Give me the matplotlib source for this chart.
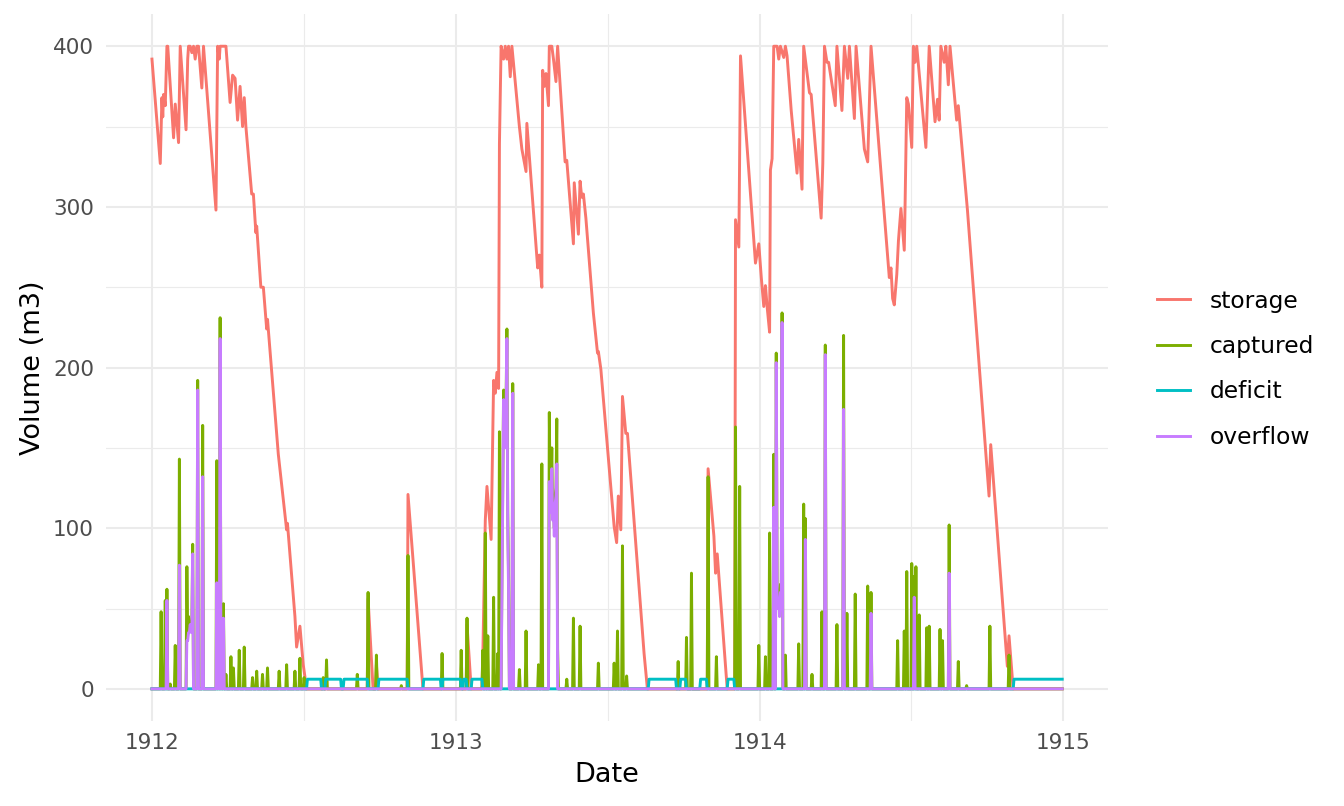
import matplotlib
matplotlib.use("Agg")
import matplotlib.pyplot as plt
import matplotlib.dates as mdates
import numpy as np
import pandas as pd

# daily water balance, 1912-01-01 .. 1914-12-31
start = pd.Timestamp("1912-01-01")
n_days = 1096

# storage (m3) at turning points: (day offset, volume)
storage_pts = [
    (0, 392), (10, 327), (12, 368), (13, 356), (14, 370), (16, 363), (18, 400), (19, 400),
    (26, 343), (28, 364), (32, 340), (34, 400), (41, 348), (43, 392), (44, 400), (46, 400),
    (48, 396), (50, 400), (52, 392), (54, 400), (56, 400), (60, 374), (62, 400), (77, 298),
    (79, 400), (81, 392), (82, 400), (89, 400), (94, 365), (97, 382), (100, 380), (103, 354),
    (106, 375), (109, 350), (111, 368), (113, 350), (120, 308), (122, 308), (125, 284),
    (126, 288), (131, 250), (134, 250), (138, 224), (139, 230), (152, 146), (162, 99),
    (163, 103), (172, 45), (174, 26), (178, 39), (182, 15), (186, 0),
    (259, 0), (260, 56), (266, 0), (269, 0), (270, 15), (272, 0), (307, 0), (308, 121),
    (326, 0), (378, 0), (379, 40), (384, 0), (397, 0), (398, 20), (401, 105), (403, 126),
    (408, 93), (411, 192), (413, 184), (415, 197), (417, 187), (418, 339), (420, 400),
    (423, 392), (425, 400), (427, 392), (429, 400), (431, 381), (433, 400), (442, 350),
    (445, 336), (450, 322), (451, 352), (464, 262), (466, 270), (469, 250), (470, 385),
    (472, 375), (474, 383), (477, 363), (478, 400), (481, 400), (483, 392), (486, 378),
    (488, 400), (497, 328), (499, 329), (507, 277), (508, 315), (513, 283), (515, 316),
    (517, 306), (519, 308), (522, 293), (531, 234), (536, 209), (537, 210), (540, 199),
    (556, 101), (559, 91), (561, 120), (564, 99), (566, 182), (570, 159), (572, 159),
    (592, 22), (596, 0),
    (668, 0), (669, 137), (676, 95), (678, 72), (680, 84), (692, 0), (701, 0), (702, 292),
    (706, 275), (708, 394), (726, 265), (730, 277), (733, 256), (736, 238), (738, 251),
    (740, 238), (743, 222), (744, 323), (746, 330), (748, 400), (752, 400), (754, 392),
    (756, 400), (760, 393), (762, 400), (764, 394), (769, 360), (776, 321), (778, 342),
    (782, 311), (784, 400), (791, 371), (793, 370), (805, 293), (807, 327), (809, 400),
    (812, 390), (814, 390), (822, 363), (824, 400), (830, 360), (833, 400), (837, 380),
    (839, 400), (845, 355), (847, 400), (857, 336), (861, 328), (865, 400), (887, 256),
    (889, 262), (891, 243), (893, 239), (896, 258), (898, 279), (901, 299), (905, 273),
    (906, 302), (908, 368), (910, 364), (914, 337), (916, 400), (918, 390), (920, 400),
    (931, 337), (935, 400), (942, 353), (945, 367), (947, 354), (949, 400), (953, 390),
    (955, 400), (958, 376), (960, 400), (968, 354), (970, 363), (981, 298), (1007, 120),
    (1009, 152), (1029, 14), (1031, 33), (1036, 0), (1095, 0),
]

# captured runoff (m3) on rain days: (day offset, volume)
captured_pts = [
    (11, 48), (16, 55), (18, 62), (22, 3), (28, 27), (33, 143), (42, 76), (43, 35), (44, 45),
    (45, 40), (46, 40), (47, 42), (48, 40), (49, 90), (55, 192), (61, 164), (78, 142), (80, 45),
    (82, 231), (84, 20), (86, 53), (89, 9), (95, 20), (98, 13), (105, 24), (111, 26), (121, 7),
    (126, 11), (133, 9), (139, 13), (153, 11), (162, 15), (172, 11), (178, 19), (183, 7),
    (206, 7), (210, 18), (247, 9), (260, 60), (270, 21), (300, 2), (308, 83), (349, 22),
    (372, 24), (379, 44),
    (398, 24), (401, 97), (404, 33), (411, 57), (416, 22), (418, 160), (421, 70), (422, 130),
    (423, 186), (424, 170), (425, 160), (426, 180), (427, 224), (428, 110), (429, 70),
    (434, 190), (442, 12), (450, 36), (465, 15), (469, 140), (478, 172), (479, 115),
    (480, 125), (481, 150), (482, 110), (483, 115), (484, 100), (485, 120), (486, 125),
    (487, 168), (488, 25), (499, 6), (507, 44), (515, 39), (537, 16), (556, 16), (560, 36),
    (566, 89), (571, 8), (633, 17), (643, 32), (649, 72), (669, 132), (679, 20), (702, 163),
    (707, 126),
    (730, 27), (738, 20), (743, 97), (748, 146), (751, 209), (752, 65), (753, 55), (754, 60),
    (755, 50), (756, 65), (757, 55), (758, 234), (762, 21), (778, 28), (784, 115), (786, 106),
    (794, 9), (806, 48), (810, 214), (824, 40), (832, 220), (836, 47), (846, 59), (861, 64),
    (865, 60), (897, 30), (905, 36), (908, 73), (914, 78), (917, 70), (919, 76), (923, 46),
    (932, 38), (935, 39), (948, 37), (951, 30), (959, 102), (970, 17), (980, 2), (1008, 39),
    (1031, 21),
]

# overflow (m3) when the tank is full: (day offset, volume)
overflow_pts = [
    (18, 55), (33, 77), (42, 30), (43, 30), (44, 35), (45, 35), (46, 40), (47, 38), (48, 35),
    (49, 84), (55, 186), (61, 132), (78, 66), (80, 40), (82, 218), (84, 15), (86, 44),
    (421, 60), (422, 120), (423, 180), (424, 160), (425, 150), (426, 170), (427, 218),
    (428, 100), (429, 60), (434, 184), (478, 129), (479, 110), (480, 120), (481, 137),
    (482, 105), (483, 110), (484, 95), (485, 115), (486, 120), (487, 140),
    (748, 113), (751, 203), (752, 60), (753, 50), (754, 55), (755, 45), (756, 60), (757, 50),
    (758, 228), (786, 93), (810, 208), (832, 174), (865, 47), (917, 57), (959, 72),
]

# days when demand was not met: (first day, last day)
deficit_spans = [
    (187, 203), (209, 227), (231, 259), (273, 307), (327, 347), (350, 371), (375, 378),
    (385, 397), (598, 630), (636, 642), (660, 667), (693, 700), (1037, 1095),
]
deficit_volume = 6

days = np.arange(n_days)
dates = start + pd.to_timedelta(days, unit="D")

captured = np.zeros(n_days)
for d, v in captured_pts:
    captured[d] = v
overflow = np.zeros(n_days)
for d, v in overflow_pts:
    overflow[d] = v
deficit = np.zeros(n_days)
for a, b in deficit_spans:
    deficit[a:b + 1] = deficit_volume

st_days = [p[0] for p in storage_pts]
st_vals = [p[1] for p in storage_pts]
st_dates = start + pd.to_timedelta(st_days, unit="D")

colors = {"storage": "#F8766D", "captured": "#7CAE00",
          "deficit": "#00BFC4", "overflow": "#C77CFF"}

fig = plt.figure(figsize=(13.44, 8.06), dpi=100)
ax = fig.add_axes([0.0792, 0.1055, 0.745, 0.877])

lw = 2.1
ax.plot(st_dates, st_vals, color=colors["storage"], lw=lw, label="storage", zorder=3)
ax.plot(dates, captured, color=colors["captured"], lw=lw, label="captured", zorder=4)
ax.plot(dates, deficit, color=colors["deficit"], lw=lw, label="deficit", zorder=5)
ax.plot(dates, overflow, color=colors["overflow"], lw=lw, label="overflow", zorder=6)

# axis limits with ggplot-like 5% expansion
x0 = mdates.date2num(start)
x1 = mdates.date2num(start + pd.Timedelta(days=n_days - 1))
span = x1 - x0
ax.set_xlim(x0 - 0.05 * span, x1 + 0.05 * span)
ax.set_ylim(-20, 420)

years = [pd.Timestamp(f"{y}-01-01") for y in range(1912, 1916)]
year_nums = [mdates.date2num(y) for y in years]
ax.set_xticks(year_nums)
ax.set_xticklabels([str(y.year) for y in years])
ax.set_xticks([(a + b) / 2 for a, b in zip(year_nums[:-1], year_nums[1:])], minor=True)
ax.set_yticks([0, 100, 200, 300, 400])
ax.set_yticks([50, 150, 250, 350], minor=True)

ax.grid(which="major", color="#EBEBEB", lw=1.5)
ax.grid(which="minor", color="#EBEBEB", lw=0.8)
ax.set_axisbelow(True)
for s in ax.spines.values():
    s.set_visible(False)
ax.tick_params(which="both", length=0)
ax.tick_params(axis="both", labelsize=15.5, labelcolor="#4D4D4D")
ax.tick_params(axis="x", pad=9)
ax.tick_params(axis="y", pad=9)

ax.set_xlabel("Date", fontsize=19.5, labelpad=6)
ax.set_ylabel("Volume (m3)", fontsize=19.5, labelpad=5)

fig.legend(loc="center left", bbox_to_anchor=(0.8605, 0.542), frameon=False,
           fontsize=16.8, handlelength=1.45, handletextpad=0.85, labelspacing=0.96,
           borderaxespad=0, borderpad=0)

fig.savefig("out.png", dpi=100)
